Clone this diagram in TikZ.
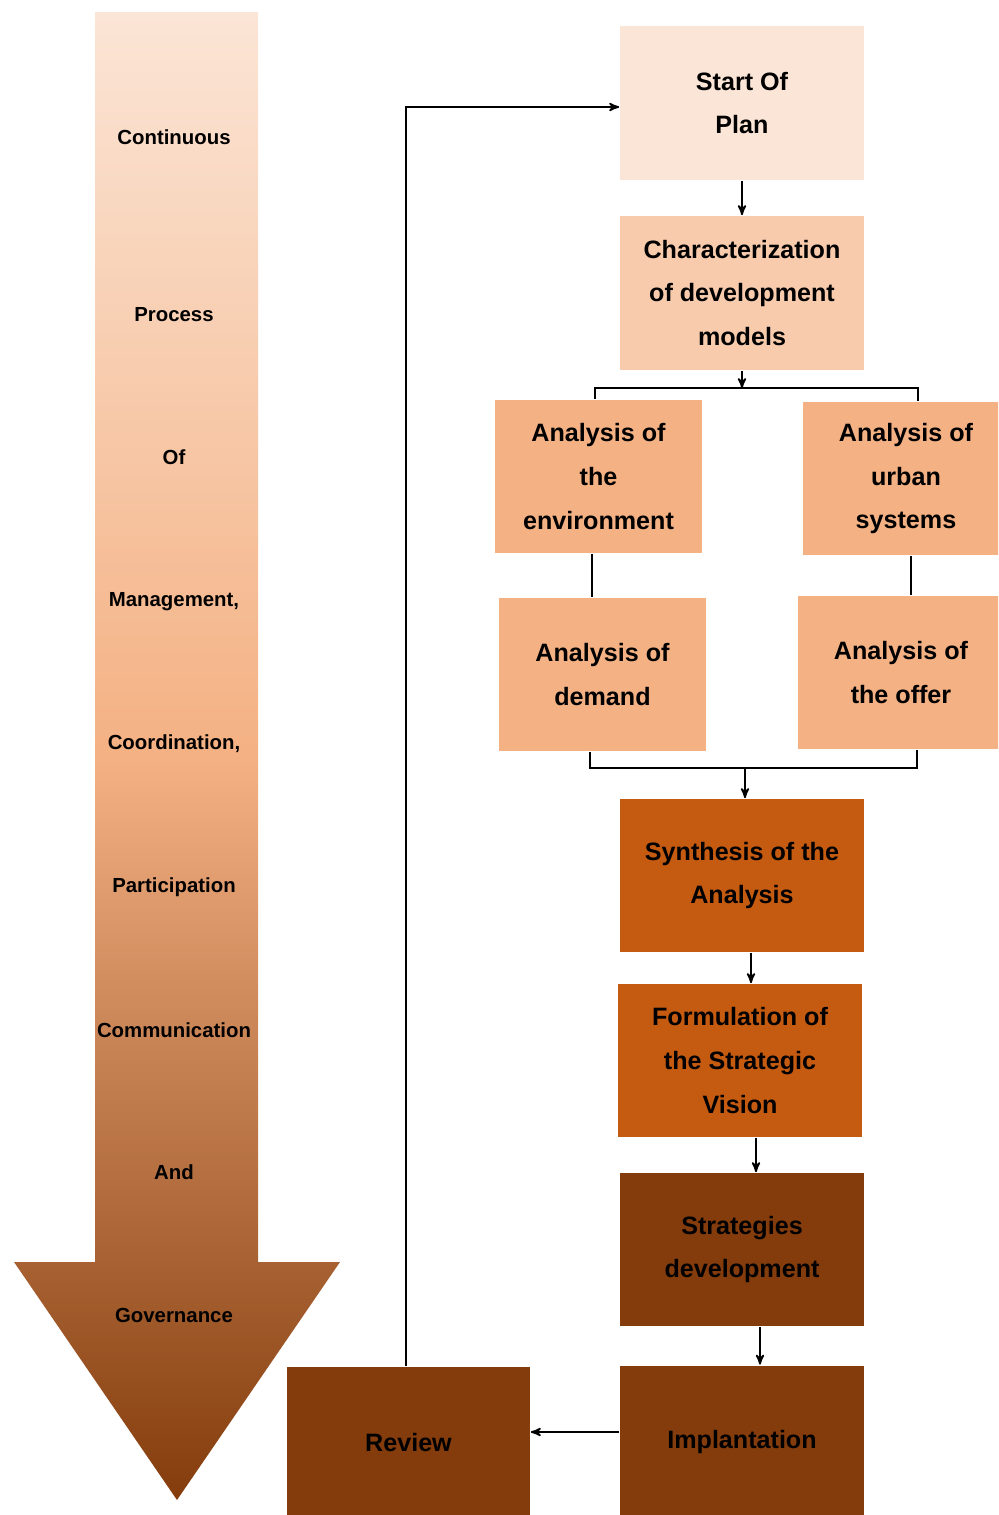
\documentclass[tikz,border=0pt]{standalone}
\usepackage{fontspec}
\setmainfont{Liberation Sans}
\usetikzlibrary{arrows}
\usetikzlibrary{positioning}

\definecolor{peachA}{HTML}{FBE5D6}
\definecolor{peachB}{HTML}{F8CBAD}
\definecolor{peachC}{HTML}{F4B183}
\definecolor{rustA}{HTML}{C55A11}
\definecolor{rustB}{HTML}{843C0C}

\begin{document}
\begin{tikzpicture}[x=0.02cm, y=-0.02cm, >=stealth', line width=1pt]
            \tikzstyle{box}=[text=black, align=center, inner sep=0pt, minimum height=3.06cm, font=\fontsize{14.3}{25}\selectfont\bfseries]
            \tikzstyle{lbl}=[text=black, font=\fontsize{11.6}{14}\selectfont\bfseries]
            \useasboundingbox (0,0) rectangle (998,1515);
            \clip (0,0) rectangle (998,1515);

            % big arrow on the left
            \shade[top color=peachA, bottom color=rustB, middle color=peachC]
                (95,12) -- (258,12) -- (258,1262) -- (340,1262) -- (177,1500) -- (14,1262) -- (95,1262) -- cycle;
            \foreach \txt/\yy [count=\i] in {Continuous/137, Process/315, Of/457, {Management,}/602, {Coordination,}/744, Participation/887, Communication/1030, And/1172, Governance/1315}
                \node[lbl] (lbl\i) at (174,\yy) {\txt};

            \node[box, fill=peachA, minimum width=4.88cm, minimum height=3.08cm] (start) at (742,103) {Start Of\\Plan};
            \node[box, fill=peachB, minimum width=4.88cm, minimum height=3.08cm] (char) at (742,293) {Characterization\\of development\\models};
            \node[box, fill=peachC, minimum width=4.14cm] (env) at (598.5,476.5) {Analysis of\\the\\environment};
            \node[box, fill=peachC, minimum width=4.14cm] (urban) at (906,478.5) {Analysis of\\urban\\systems};
            \node[box, fill=peachC, minimum width=4.14cm] (demand) at (602.5,674.5) {Analysis of\\demand};
            \node[box, fill=peachC, minimum width=4.14cm] (offer) at (901,672.5) {Analysis of\\the offer};
            \node[box, fill=rustA, minimum width=4.88cm] (synth) at (742,875.5) {Synthesis of the\\Analysis};
            \node[box, fill=rustA, minimum width=4.88cm] (formul) at (740,1060.5) {Formulation of\\the Strategic\\Vision};
            \node[box, fill=rustB, minimum width=4.88cm] (strat) at (742,1249.5) {Strategies\\development};
            \node[box, fill=rustB, minimum width=4.88cm] (impl) at (742,1442) {Implantation};
            \node[box, fill=rustB, minimum width=4.86cm] (review) at (408.5,1443) {Review};

            \coordinate (split) at (742,388);
            \coordinate (join) at (745,768);

            \draw[->] (start) -- (char);
            \draw[->] (char) -- (split);
            \draw (env.north -| 595,0) |- (split) -| (urban.north -| 918,0);
            \draw (env.south -| 592,0) -- (demand.north -| 592,0);
            \draw (urban.south -| 911,0) -- (offer.north -| 911,0);
            \draw (demand.south -| 590,0) |- (join) -| (offer.south -| 917,0);
            \draw[->] (join) -- (join |- synth.north);
            \draw[->] (synth.south -| 751,0) -- (formul.north -| 751,0);
            \draw[->] (formul.south -| 756,0) -- (strat.north -| 756,0);
            \draw[->] (strat.south -| 760,0) -- (impl.north -| 760,0);
            \draw[->] (impl.west |- 0,1432) -- (review.east |- 0,1432);
            \draw[->] (review.north -| 406,0) |- (start.west |- 0,107);
        \end{tikzpicture}
\end{document}
